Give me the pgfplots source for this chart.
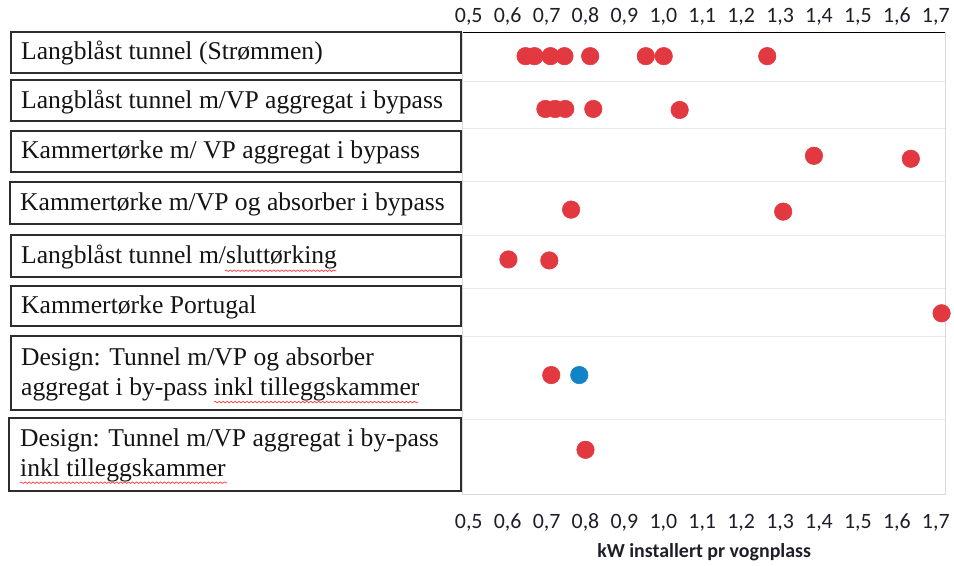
\documentclass[border=0pt]{standalone}
\usepackage{fontspec}
\setmainfont{Liberation Serif}
\newfontfamily\tickfont{Carlito}
\usepackage{pgfplots}
\pgfplotsset{compat=1.18}
\usetikzlibrary{decorations.pathmorphing}
\definecolor{dotred}{RGB}{226,56,64}
\definecolor{dotblue}{RGB}{16,132,199}
\definecolor{boxline}{RGB}{45,45,45}
\definecolor{ticktxt}{RGB}{30,30,40}
\begin{document}
\begin{tikzpicture}
\begin{scope}[x=0.75pt,y=-0.75pt]
\path[use as bounding box] (0,0) rectangle (954,562);
\tikzset{lbl/.style={anchor=west,inner sep=0pt,font=\fontsize{19.3}{22.5}\selectfont,text=black!92,align=left},
  bx/.style={draw=boxline,line width=1.5pt},
  sq/.style={draw=red!80,line width=0.5pt,decorate,decoration={snake,segment length=3pt,amplitude=0.6pt}}}
\draw[bx] (11,32) rectangle (463,73);
\node[lbl] at (21,53.5) {Langblåst tunnel (Strømmen)};
\draw[bx] (11,80) rectangle (463,122);
\node[lbl] at (21,102) {Langblåst tunnel m/VP aggregat i bypass};
\draw[bx] (11,132) rectangle (463,173);
\node[lbl] at (21,153.5) {Kammertørke m/ VP aggregat i bypass};
\draw[bx] (10,183) rectangle (463,225);
\node[lbl] at (20,205) {Kammertørke m/VP og absorber i bypass};
\draw[bx] (11,236) rectangle (463,278);
\node[lbl] at (21,258) {Langblåst tunnel m/sluttørking};
\draw[sq] (226,272) -- (338,272);
\draw[bx] (11,287) rectangle (463,328);
\node[lbl] at (21,308.5) {Kammertørke Portugal};
\draw[bx] (11,338) rectangle (463,412);
\node[lbl] at (21,376) {Design: Tunnel m/VP og absorber\\aggregat i by-pass inkl tilleggskammer};
\draw[sq] (215,404) -- (420,404);
\draw[bx] (9,420) rectangle (463,493);
\node[lbl] at (20,457.5) {Design: Tunnel m/VP aggregat i by-pass\\inkl tilleggskammer};
\draw[sq] (20,485) -- (228,485);
\end{scope}

\pgfplotsset{commonax/.style={
  at={(348.75pt,-372.75pt)}, anchor=south west,
  scale only axis, width=363.75pt, height=348pt,
  xmin=0.4847, xmax=1.725, ymin=33, ymax=497, y dir=reverse,
  xtick={0.5,0.6,...,1.7},
  major tick length=0pt,
  /pgf/number format/.cd, use comma, fixed, fixed zerofill, precision=1, assume math mode=true,
  /pgfplots/.cd,
  xticklabel style={font=\tickfont\fontsize{16.5}{18}\selectfont, text=ticktxt},
}}
\begin{axis}[commonax,
  axis line style={gray!30, line width=0.6pt},
  ytick={82,130,183,237,290,338,422}, yticklabels={},
  ymajorgrids, grid style={gray!18, line width=0.8pt},
  xticklabel style={yshift=-11pt},
  xlabel={\tickfont\bfseries\fontsize{15}{18}\selectfont kW installert pr vognplass},
  xlabel style={yshift=-2pt, text=ticktxt},
  clip=false]
\addplot[only marks, mark=*, mark size=6.6pt, color=dotred, mark options={draw=dotred, fill=dotred}] coordinates {
 (0.646,57) (0.669,57) (0.710,57) (0.746,57) (0.812,57) (0.955,57) (1.001,57) (1.267,57)
 (0.697,110) (0.722,110) (0.748,110) (0.820,110) (1.042,111)
 (1.387,157) (1.636,160)
 (0.763,211) (1.308,213)
 (0.602,261) (0.707,262)
 (1.715,315)
 (0.712,377)
 (0.800,452)
};
\addplot[only marks, mark=*, mark size=6.6pt, color=dotblue, mark options={draw=dotblue, fill=dotblue}] coordinates {
 (0.784,377)
};
\end{axis}
\begin{axis}[commonax,
  axis x line*=top, axis y line=none,
  xticklabel style={yshift=2pt}]
\end{axis}
\end{tikzpicture}
\end{document}
